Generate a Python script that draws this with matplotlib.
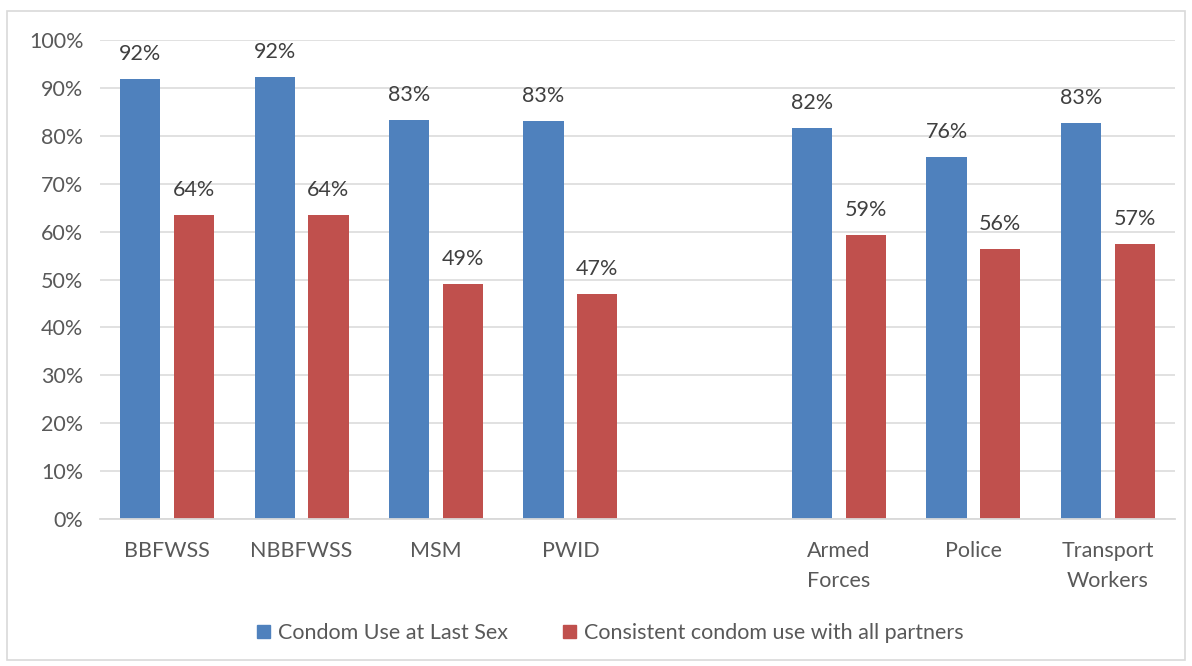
import matplotlib
matplotlib.use("Agg")
import matplotlib.pyplot as plt
from matplotlib.patches import Rectangle, Patch
from matplotlib.ticker import FuncFormatter
import numpy as np

plt.rcParams['font.family'] = ['Lato', 'DejaVu Sans']

categories = ["BBFWSS", "NBBFWSS", "MSM", "PWID", "Armed\nForces", "Police", "Transport\nWorkers"]
condom_last_sex = [91.9, 92.3, 83.3, 83.1, 81.6, 75.6, 82.6]
consistent_use = [63.5, 63.5, 49.1, 47.0, 59.3, 56.4, 57.4]
series_names = ["Condom Use at Last Sex", "Consistent condom use with all partners"]

BLUE = "#4F81BD"
RED = "#C0504D"
TEXT = "#595959"
LABEL = "#404040"
GRID = "#D9D9D9"
FS = 15.5

# key populations first, then a blank slot, then bridge populations
slots = np.array([0, 1, 2, 3, 5, 6, 7])

fig = plt.figure(figsize=(11.92, 6.66), dpi=100)
W, H = 1192, 666
ax = fig.add_axes([100 / W, 1 - 519 / H, (1175 - 100) / W, (519 - 40) / H])

width = 0.3
off = 0.2
b1 = ax.bar(slots - off, condom_last_sex, width, color=BLUE, zorder=3)
b2 = ax.bar(slots + off, consistent_use, width, color=RED, zorder=3)

for bars, vals in ((b1, condom_last_sex), (b2, consistent_use)):
    for rect, v in zip(bars, vals):
        ax.annotate(f"{v:.0f}%", (rect.get_x() + rect.get_width() / 2, v),
                    xytext=(0, 11), textcoords="offset points",
                    ha="center", va="bottom", fontsize=FS, color=LABEL)

ax.set_xlim(-0.5, 7.5)
ax.set_ylim(0, 100)
ax.set_yticks(np.arange(0, 101, 10))
ax.yaxis.set_major_formatter(FuncFormatter(lambda v, p: f"{v:.0f}%"))
ax.set_xticks(slots)
ax.set_xticklabels(categories, linespacing=1.62)
ax.tick_params(axis="both", length=0, labelsize=FS, labelcolor=TEXT)
ax.tick_params(axis="x", pad=16)
ax.tick_params(axis="y", pad=12)

ax.grid(axis="y", color=GRID, linewidth=1.1, zorder=0)
for s in ("left", "right", "top"):
    ax.spines[s].set_visible(False)
ax.spines["bottom"].set_color(GRID)
ax.spines["bottom"].set_linewidth(1.3)
ax.spines["bottom"].set_zorder(4)

handles = [Patch(color=BLUE), Patch(color=RED)]
fig.legend(handles, series_names, loc="center", bbox_to_anchor=(0.512, 1 - 633 / H),
           ncol=2, frameon=False, fontsize=FS, labelcolor=TEXT,
           handlelength=0.6, handleheight=0.6, handletextpad=0.35, columnspacing=2.6)

fig.patches.append(Rectangle((7 / W, 1 - 660 / H), (1185 - 7) / W, (660 - 11) / H,
                             transform=fig.transFigure, fill=False,
                             edgecolor="#D9D9D9", linewidth=1.2))

fig.savefig("out.png", dpi=100, facecolor="white")
